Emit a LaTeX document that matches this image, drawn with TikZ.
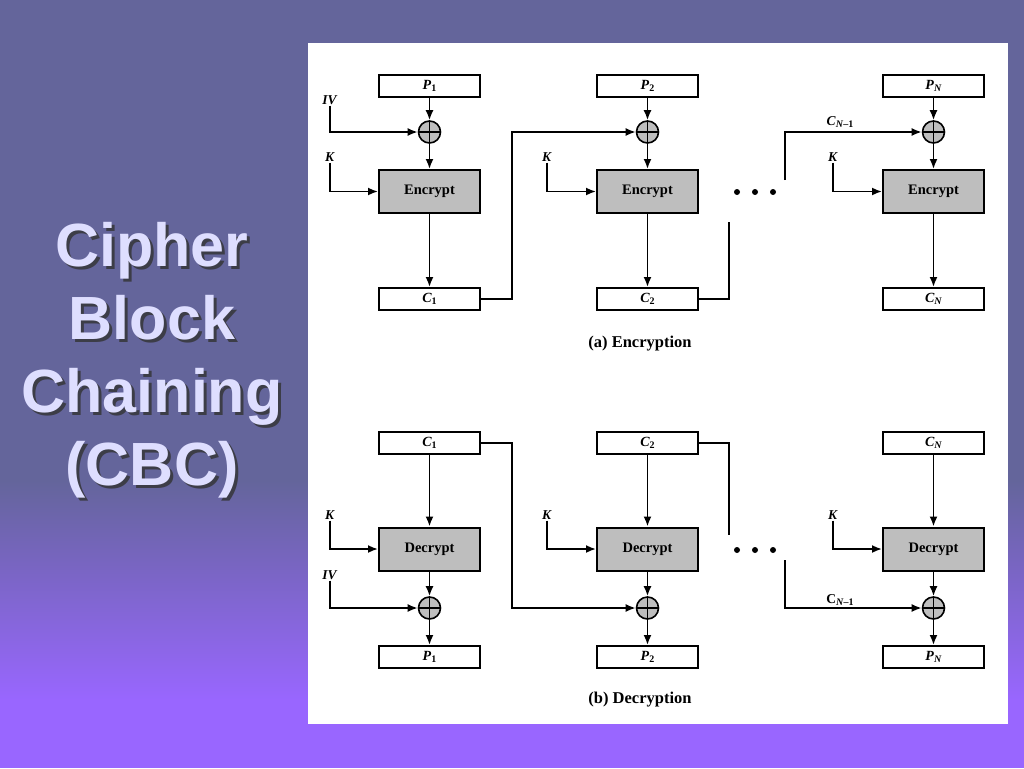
\documentclass[tikz,border=0pt]{standalone}
\usepackage{fontspec}
\setmainfont{Liberation Serif}
\newfontfamily\titlefont{Liberation Sans}
\usetikzlibrary{arrows.meta,calc}
\definecolor{bgtop}{RGB}{100,101,155}
\definecolor{bgbot}{RGB}{153,102,255}
\definecolor{titlecol}{RGB}{222,222,255}
\definecolor{boxgrey}{RGB}{190,190,190}
\newcommand\lab[2]{\textbf{\textit{#1}}\raisebox{-0.4ex}{\fontsize{10}{10}\selectfont\textbf{#2}}}
\begin{document}
\begin{tikzpicture}[x=1pt,y=-1pt,
  smallbox/.style={draw,line width=2pt,minimum width=101pt,minimum height=22pt,inner sep=0pt,fill=white,font=\fontsize{14}{14}\selectfont},
  bigbox/.style={draw,line width=2pt,minimum width=101pt,minimum height=43pt,inner sep=0pt,fill=boxgrey,font=\bfseries\fontsize{14.5}{14.5}\selectfont},
  xorc/.style={draw,line width=1.6pt,circle,minimum size=22pt,inner sep=0pt,fill=boxgrey,
    path picture={\draw[line width=1.6pt] (path picture bounding box.north) -- (path picture bounding box.south)
      (path picture bounding box.west) -- (path picture bounding box.east);}},
  inlab/.style={inner sep=1pt,font=\fontsize{13.5}{13.5}\selectfont},
  caplab/.style={inner sep=0pt,font=\bfseries\fontsize{16.5}{16.5}\selectfont},
  arr/.style={line width=1.8pt,-{Latex[length=10pt,width=8pt]}},
  ln/.style={line width=1.8pt},
  dot/.style={circle,fill=black,inner sep=0pt,minimum size=6pt}
]
\useasboundingbox (0,0) rectangle (1024,768);
% background
\fill[bgtop] (0,0) rectangle (1024,481);
\shade[top color=bgtop,bottom color=bgbot] (0,480) rectangle (1024,701);
\fill[bgbot] (0,700) rectangle (1024,768);
% title
\node[align=center,text=black!80,opacity=0.8,font=\titlefont\bfseries\fontsize{61}{73}\selectfont] (titleshadow) at (155,363) {Cipher\\Block\\Chaining\\(CBC)};
\node[align=center,text=titlecol,font=\titlefont\bfseries\fontsize{61}{73}\selectfont] (title) at (152,360) {Cipher\\Block\\Chaining\\(CBC)};
% panel
\fill[white] (308,43) rectangle (1008,724);

% ===== Encryption =====
\node[smallbox] (p1e) at (429.5,86) {\lab{P}{1}};
\node[smallbox] (p2e) at (647.5,86) {\lab{P}{2}};
\node[smallbox] (pne) at (933.5,86) {\lab{P}{\textit{N}}};
\node[xorc] (x1e) at (429.5,132) {};
\node[xorc] (x2e) at (647.5,132) {};
\node[xorc] (x3e) at (933.5,132) {};
\node[bigbox] (e1) at (429.5,191.5) {Encrypt};
\node[bigbox] (e2) at (647.5,191.5) {Encrypt};
\node[bigbox] (e3) at (933.5,191.5) {Encrypt};
\node[smallbox] (c1e) at (429.5,299) {\lab{C}{1}};
\node[smallbox] (c2e) at (647.5,299) {\lab{C}{2}};
\node[smallbox] (cne) at (933.5,299) {\lab{C}{\textit{N}}};

\node[inlab] (iv1) at (330,100) {\textbf{\textit{IV}}};
\node[inlab] (k1e) at (330,157) {\textbf{\textit{K}}};
\node[inlab] (k2e) at (547,157) {\textbf{\textit{K}}};
\node[inlab] (k3e) at (833,157) {\textbf{\textit{K}}};
\node[inlab] (cn1e) at (840,122) {\lab{C}{\textit{N}–1}};

\foreach \p/\x/\e/\c in {p1e/x1e/e1/c1e,p2e/x2e/e2/c2e,pne/x3e/e3/cne}{
  \draw[arr] (\p.south) -- (\x.north);
  \draw[arr] (\x.south) -- (\e.north);
  \draw[arr] (\e.south) -- (\c.north);
}
\draw[arr] (iv1.south) |- (x1e.west);
\draw[arr] (k1e.south) |- (e1.west);
\draw[arr] (k2e.south) |- (e2.west);
\draw[arr] (k3e.south) |- (e3.west);
\draw[arr] (c1e.east) -- ++(31,0) |- (x2e.west);
\coordinate (d2top) at (729,222);
\draw[ln] (c2e.east) -| (d2top);
\coordinate (dnbot) at (785,180);
\draw[arr] (dnbot) |- (x3e.west);
\node[dot] (de1) at (737,192) {};
\node[dot] (de2) at (755,192) {};
\node[dot] (de3) at (773,192) {};
\node[caplab] (capa) at (640,344) {(a) Encryption};

% ===== Decryption =====
\node[smallbox] (c1d) at (429.5,443) {\lab{C}{1}};
\node[smallbox] (c2d) at (647.5,443) {\lab{C}{2}};
\node[smallbox] (cnd) at (933.5,443) {\lab{C}{\textit{N}}};
\node[bigbox] (d1) at (429.5,549) {Decrypt};
\node[bigbox] (d2) at (647.5,549) {Decrypt};
\node[bigbox] (d3) at (933.5,549) {Decrypt};
\node[xorc] (x1d) at (429.5,608) {};
\node[xorc] (x2d) at (647.5,608) {};
\node[xorc] (x3d) at (933.5,608) {};
\node[smallbox] (p1d) at (429.5,657) {\lab{P}{1}};
\node[smallbox] (p2d) at (647.5,657) {\lab{P}{2}};
\node[smallbox] (pnd) at (933.5,657) {\lab{P}{\textit{N}}};

\node[inlab] (k1d) at (330,515) {\textbf{\textit{K}}};
\node[inlab] (k2d) at (547,515) {\textbf{\textit{K}}};
\node[inlab] (k3d) at (833,515) {\textbf{\textit{K}}};
\node[inlab] (iv2) at (330,575) {\textbf{\textit{IV}}};
\node[inlab] (cn1d) at (840,600) {\textbf{C}\raisebox{-0.4ex}{\fontsize{10}{10}\selectfont\textbf{\textit{N}–1}}};

\foreach \c/\d/\x/\p in {c1d/d1/x1d/p1d,c2d/d2/x2d/p2d,cnd/d3/x3d/pnd}{
  \draw[arr] (\c.south) -- (\d.north);
  \draw[arr] (\d.south) -- (\x.north);
  \draw[arr] (\x.south) -- (\p.north);
}
\draw[arr] (k1d.south) |- (d1.west);
\draw[arr] (k2d.south) |- (d2.west);
\draw[arr] (k3d.south) |- (d3.west);
\draw[arr] (iv2.south) |- (x1d.west);
\draw[arr] (c1d.east) -- ++(31,0) |- (x2d.west);
\coordinate (d2bot) at (729,535);
\draw[ln] (c2d.east) -| (d2bot);
\coordinate (dntop) at (785,560);
\draw[arr] (dntop) |- (x3d.west);
\node[dot] (dd1) at (737,550) {};
\node[dot] (dd2) at (755,550) {};
\node[dot] (dd3) at (773,550) {};
\node[caplab] (capb) at (640,700) {(b) Decryption};
\end{tikzpicture}
\end{document}
